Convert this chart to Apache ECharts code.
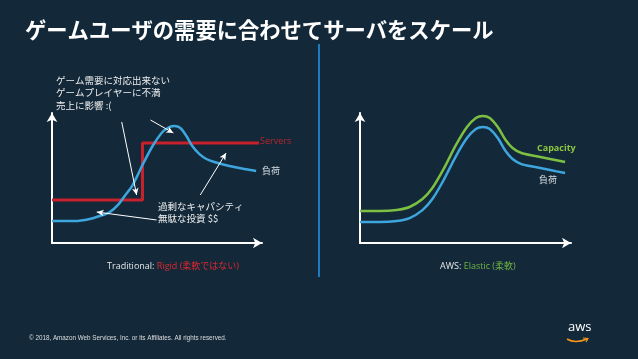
<!DOCTYPE html>
<html>
<head>
<meta charset="utf-8">
<script src="https://cdn.jsdelivr.net/npm/echarts@6/dist/echarts.min.js"></script>
<style>
html,body{margin:0;padding:0;background:#13293a;}
#c{width:638px;height:359px;}
</style>
</head>
<body>
<div id="c"></div>
<script>
// ---- data (arbitrary 0-100 units) ----
const tradX      = [0, 10.9, 18.0, 22.7, 27.5, 31.3, 34.6, 38.4, 43.1, 47.9, 52.6, 55.9, 58.3, 61.1, 64.0, 66.8, 70.1, 73.5, 77.3, 84.4, 91.5, 97.2];
const tradLoad   = [16.9, 16.9, 18.5, 20.8, 23.8, 29.2, 36.2, 44.6, 60.0, 74.6, 85.4, 89.2, 90.0, 88.5, 82.3, 74.6, 68.5, 64.6, 62.3, 59.2, 56.9, 55.4];
const serverX    = [0, 43.1, 43.1, 98.6];
const servers    = [33, 33, 77, 77];
const awsX       = [0, 9.4, 17.4, 23.5, 29.6, 34.3, 39.4, 45.5, 50.7, 54.9, 58.2, 61.5, 65.3, 69.0, 72.3, 76.5, 83.1, 90.1, 97.2];
const awsCap     = [24.6, 24.6, 25.4, 27.7, 33.8, 42.3, 56.2, 75.4, 89.2, 96.2, 97.7, 96.2, 89.2, 79.2, 73.1, 69.2, 66.9, 64.6, 62.3];
const awsLoad    = [16.1, 16.1, 16.9, 19.2, 25.3, 33.8, 47.7, 66.9, 80.7, 87.7, 89.2, 87.7, 80.7, 70.7, 64.6, 60.7, 58.4, 56.1, 53.8];
// annotation arrows in left-chart data units: [fromX, fromY, toX, toY]
const annotationArrows = [
  [33.2, 93.1, 40.3, 36.9],
  [46.9, 94.6, 57.8, 84.6],
  [70.6, 36.9, 82.9, 69.2],
  [49.8, 17.7, 21.3, 23.8]
];
const titleText = 'ゲームユーザの需要に合わせてサーバをスケール';

const zip = (xs, ys) => xs.map((x, i) => [x, ys[i]]);
const JP = '"Noto Sans CJK JP", "Noto Sans", sans-serif';
const BLUE = '#3ea6dd', RED = '#c8212b', GREEN = '#7cbf43';

function axis(gridIndex) {
  return {
    type: 'value', gridIndex: gridIndex, min: 0, max: 100,
    axisLine: { show: true, onZero: false, symbol: ['none', 'arrow'], symbolSize: [8, 9],
      lineStyle: { color: '#ffffff', width: 2 } },
    axisTick: { show: false }, axisLabel: { show: false }, splitLine: { show: false }
  };
}

const chart = echarts.init(document.getElementById('c'), null, { renderer: 'canvas' });
chart.setOption({
  backgroundColor: '#13293a',
  animation: false,
  grid: [
    { left: 52, top: 113, width: 210, height: 130 },
    { left: 360, top: 113, width: 211, height: 130 }
  ],
  xAxis: [axis(0), axis(1)],
  yAxis: [axis(0), axis(1)],
  series: [
    {
      type: 'line', xAxisIndex: 0, yAxisIndex: 0, data: zip(serverX, servers),
      showSymbol: false, lineStyle: { color: RED, width: 3 }, z: 2
    },
    {
      type: 'line', xAxisIndex: 0, yAxisIndex: 0, data: zip(tradX, tradLoad),
      smooth: 0.3, showSymbol: false, lineStyle: { color: BLUE, width: 2.5 }, z: 3,
      markLine: {
        silent: true, symbol: ['none', 'arrow'], symbolSize: [5, 7],
        lineStyle: { color: '#ffffff', width: 1, type: 'solid' },
        label: { show: false },
        data: annotationArrows.map(a => [{ coord: [a[0], a[1]] }, { coord: [a[2], a[3]] }])
      }
    },
    {
      type: 'line', xAxisIndex: 1, yAxisIndex: 1, data: zip(awsX, awsCap),
      smooth: 0.3, showSymbol: false, lineStyle: { color: GREEN, width: 2.5 }
    },
    {
      type: 'line', xAxisIndex: 1, yAxisIndex: 1, data: zip(awsX, awsLoad),
      smooth: 0.3, showSymbol: false, lineStyle: { color: BLUE, width: 2.5 }
    }
  ],
  graphic: [
    { type: 'text', left: 25, top: 19, style: { text: titleText, fill: '#ffffff', font: 'bold 21.3px ' + JP } },
    { type: 'line', shape: { x1: 319, y1: 44, x2: 319, y2: 277 }, style: { stroke: '#1f7bbf', lineWidth: 2 } },
    { type: 'text', left: 56, top: 74, style: { text: 'ゲーム需要に対応出来ない\nゲームプレイヤーに不満\n売上に影響 :(', fill: '#eeeeee', font: '9.5px ' + JP, lineHeight: 12.5 } },
    { type: 'text', left: 158, top: 200, style: { text: '過剰なキャパシティ\n無駄な投資 $$', fill: '#eeeeee', font: '9.5px ' + JP, lineHeight: 12 } },
    { type: 'text', left: 260, top: 137, style: { text: 'Servers', fill: '#b8242b', font: '9px "Open Sans", sans-serif' } },
    { type: 'text', left: 262, top: 166, style: { text: '負荷', fill: '#d5dde2', font: '9px ' + JP } },
    { type: 'text', left: 537, top: 144, style: { text: 'Capacity', fill: '#8cc63f', font: 'bold 9px "Open Sans", sans-serif' } },
    { type: 'text', left: 539, top: 175, style: { text: '負荷', fill: '#d5dde2', font: '9px ' + JP } },
    { type: 'text', left: 107, top: 262, style: {
        text: '{a|Traditional: }{b|Rigid (柔軟ではない)}',
        rich: { a: { fill: '#e6e6e6', font: '9px "Open Sans", ' + JP }, b: { fill: '#e0262c', font: '9px "Open Sans", ' + JP } } } },
    { type: 'text', left: 440, top: 262, style: {
        text: '{a|AWS: }{b|Elastic (柔軟)}',
        rich: { a: { fill: '#e6e6e6', font: '9px "Open Sans", ' + JP }, b: { fill: '#6fb443', font: '9px "Open Sans", ' + JP } } } },
    { type: 'text', left: 29, top: 335, style: { text: '© 2018, Amazon Web Services, Inc. or its Affiliates. All rights reserved.', fill: '#dddddd', font: '6.3px "Liberation Sans", sans-serif' } },
    { type: 'text', left: 568, top: 321, style: { text: 'aws', fill: '#ffffff', font: '13px "Open Sans", sans-serif' } },
    { type: 'bezierCurve', shape: { x1: 567, y1: 339, cpx1: 575, cpy1: 344, x2: 587, y2: 339 }, style: { stroke: '#f7981d', lineWidth: 1.5, fill: null } },
    { type: 'polyline', shape: { points: [[583, 338], [588, 338.5], [586, 342]] }, style: { stroke: '#f7981d', lineWidth: 1.2, fill: null } }
  ]
});
</script>
</body>
</html>
